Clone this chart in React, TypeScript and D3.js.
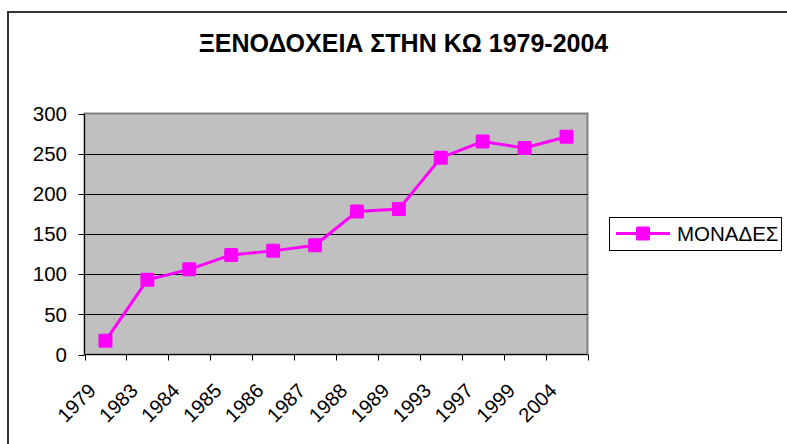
import React from "react";
import * as d3 from "d3";

const categories = ["1979", "1983", "1984", "1985", "1986", "1987", "1988", "1989", "1993", "1997", "1999", "2004"];
const units = [17, 93, 106, 124, 129, 136, 178, 181, 245, 265, 257, 271];
const yTicks = [0, 50, 100, 150, 200, 250, 300];
const seriesName = "ΜΟΝΑΔΕΣ";
const title = "ΞΕΝΟΔΟΧΕΙΑ ΣΤΗΝ ΚΩ 1979-2004";

const W = 787;
const H = 444;
const plot = { left: 84.5, right: 587.5, top: 113.5, bottom: 354.5 };
const FONT = "'Liberation Sans', Arial, sans-serif";
const PINK = "#FF00FF";

export default function App() {
  const x = d3.scaleBand<string>().domain(categories).range([plot.left, plot.right]);
  const y = d3.scaleLinear().domain([0, 300]).range([plot.bottom, plot.top]);
  const cx = (c: string) => (x(c) as number) + x.bandwidth() / 2;
  const line = d3
    .line<number>()
    .x((_, i) => cx(categories[i]))
    .y((d) => y(d));
  const ms = 14;
  const tickXs = [...categories.map((c) => x(c) as number), plot.right];

  return (
    <svg
      width={W}
      height={H}
      style={{ position: "absolute", left: 0, top: 0, background: "#fff" }}
      fontFamily={FONT}
    >
      <rect x={8} y={12} width={900} height={600} fill="#fff" stroke="#333" strokeWidth={2} />
      <text x={403.5} y={52} textAnchor="middle" fontSize={25} fontWeight="bold" fill="#000">
        {title}
      </text>

      <rect
        x={plot.left}
        y={plot.top}
        width={plot.right - plot.left}
        height={plot.bottom - plot.top}
        fill="#C0C0C0"
        stroke="#808080"
        strokeWidth={2}
      />
      {yTicks
        .filter((t) => t > 0 && t < 300)
        .map((t) => (
          <line key={t} x1={plot.left} x2={plot.right} y1={Math.round(y(t)) + 0.5} y2={Math.round(y(t)) + 0.5} stroke="#000" strokeWidth={1} />
        ))}
      {/* axes */}
      <line x1={plot.left} x2={plot.left} y1={plot.top} y2={plot.bottom} stroke="#000" strokeWidth={1} />
      <line x1={plot.left} x2={plot.right} y1={plot.bottom} y2={plot.bottom} stroke="#000" strokeWidth={1} />
      {yTicks.map((t) => (
        <g key={t}>
          <line x1={plot.left - 6} x2={plot.left} y1={Math.round(y(t)) + 0.5} y2={Math.round(y(t)) + 0.5} stroke="#000" />
          <text x={plot.left - 17.5} y={y(t)} dy="0.35em" textAnchor="end" fontSize={20.5} fill="#000">
            {t}
          </text>
        </g>
      ))}
      {tickXs.map((tx, i) => (
        <line key={i} x1={Math.round(tx) + 0.5} x2={Math.round(tx) + 0.5} y1={plot.bottom} y2={plot.bottom + 6} stroke="#000" />
      ))}
      {categories.map((c) => (
        <text
          key={c}
          transform={`translate(${cx(c) - 8.3},${plot.bottom + 37.5}) rotate(-45)`}
          textAnchor="end"
          fontSize={20}
          fill="#000"
        >
          {c}
        </text>
      ))}

      <path d={line(units) || ""} fill="none" stroke={PINK} strokeWidth={3} />
      {units.map((v, i) => (
        <rect key={i} x={cx(categories[i]) - ms / 2} y={y(v) - ms / 2} width={ms} height={ms} rx={1.5} fill={PINK} />
      ))}

      <rect x={609.5} y={217.5} width={172} height={33} fill="#fff" stroke="#000" strokeWidth={1} />
      <line x1={616} x2={670} y1={233.5} y2={233.5} stroke={PINK} strokeWidth={3} />
      <rect x={643 - ms / 2} y={233.5 - ms / 2} width={ms} height={ms} rx={1.5} fill={PINK} />
      <text x={677} y={234} dy="0.35em" fontSize={20.5} fill="#000">
        {seriesName}
      </text>
    </svg>
  );
}
